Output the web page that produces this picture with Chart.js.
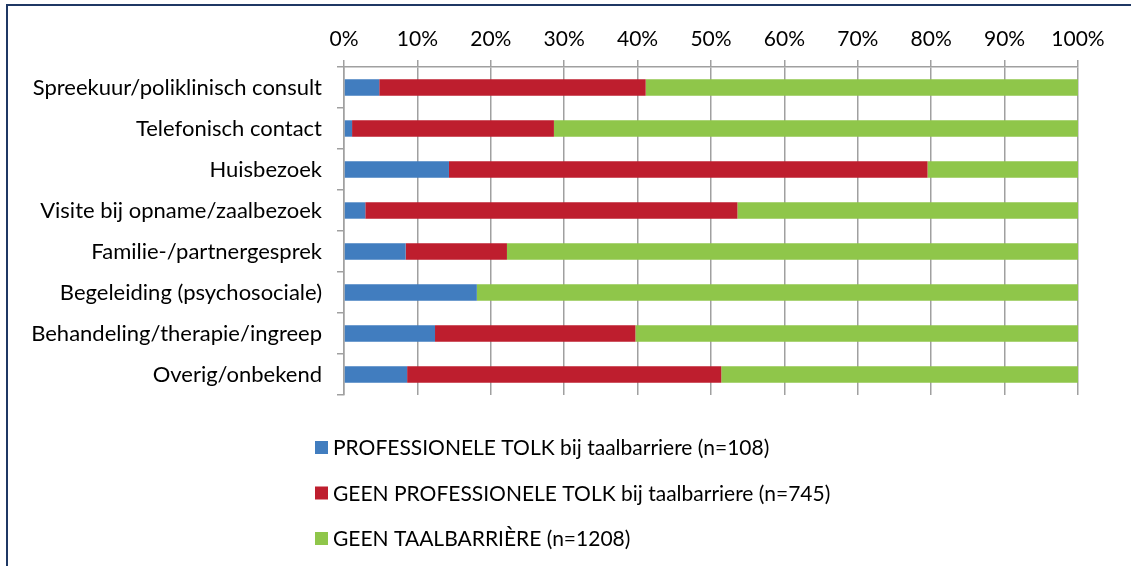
<!DOCTYPE html>
<html>
<head>
<meta charset="utf-8">
<script src="https://cdn.jsdelivr.net/npm/chart.js@4/dist/chart.umd.min.js"></script>
<style>
  html, body { margin: 0; padding: 0; background: #fff; }
  #wrap { position: relative; width: 1131px; height: 566px; }
</style>
</head>
<body>
<div id="wrap"><canvas id="bar-chart"></canvas></div>
<script>
const categories = [
  "Spreekuur/poliklinisch consult",
  "Telefonisch contact",
  "Huisbezoek",
  "Visite bij opname/zaalbezoek",
  "Familie-/partnergesprek",
  "Begeleiding (psychosociale)",
  "Behandeling/therapie/ingreep",
  "Overig/onbekend"
];
const seriesNames = [
  "PROFESSIONELE TOLK bij taalbarriere (n=108)",
  "GEEN PROFESSIONELE TOLK bij taalbarriere (n=745)",
  "GEEN TAALBARRIÈRE (n=1208)"
];
const tolk = [4.8, 1.1, 14.3, 2.9, 8.4, 18.1, 12.4, 8.6];
const geenTolk = [36.3, 27.5, 65.2, 50.7, 13.8, 0, 27.3, 42.8];
const geenBarriere = [58.9, 71.4, 20.5, 46.4, 77.8, 81.9, 60.3, 48.6];
const xTickLabels = ["0%", "10%", "20%", "30%", "40%", "50%", "60%", "70%", "80%", "90%", "100%"];
const colors = ["#417DBF", "#BE1E2E", "#8FC64A"];

const FONT = "Lato, 'Open Sans', sans-serif";

// lijst-legenda onder de grafiek + kader links/boven
const columnLegend = {
  id: "columnLegend",
  beforeDraw(chart) {
    const ctx = chart.ctx;
    ctx.save();
    ctx.strokeStyle = "#1F3864";
    ctx.lineWidth = 2;
    ctx.beginPath();
    ctx.moveTo(1131, 5);
    ctx.lineTo(7, 5);
    ctx.lineTo(7, 566);
    ctx.stroke();
    ctx.restore();
  },
  afterDraw(chart) {
    const ctx = chart.ctx;
    ctx.save();
    ctx.font = "21px " + FONT;
    ctx.textBaseline = "middle";
    chart.data.datasets.forEach(function (ds, i) {
      const y = 447.5 + i * 45.5;
      ctx.fillStyle = ds.backgroundColor;
      ctx.fillRect(315, y - 6.5, 13, 13);
      ctx.fillStyle = "#000";
      ctx.fillText(ds.label, 333, y + 1);
    });
    ctx.restore();
  }
};

new Chart(document.getElementById("bar-chart"), {
  type: "bar",
  data: {
    labels: categories,
    datasets: [
      { label: seriesNames[0], data: tolk, backgroundColor: colors[0] },
      { label: seriesNames[1], data: geenTolk, backgroundColor: colors[1] },
      { label: seriesNames[2], data: geenBarriere, backgroundColor: colors[2] }
    ]
  },
  options: {
    indexAxis: "y",
    responsive: true,
    maintainAspectRatio: false,
    animation: false,
    layout: { padding: { left: 0, right: 53, top: 0, bottom: 171 } },
    datasets: {
      bar: { categoryPercentage: 1, barPercentage: 0.4 }
    },
    plugins: {
      legend: { display: false },
      tooltip: { enabled: false }
    },
    scales: {
      x: {
        position: "top",
        stacked: true,
        min: 0,
        max: 100,
        ticks: {
          stepSize: 10,
          padding: 8,
          color: "#000",
          font: { family: FONT, size: 21 },
          callback: function (v, i) { return xTickLabels[i]; }
        },
        grid: { color: "#a0a0a0", lineWidth: 1.5, tickLength: 7 },
        border: { display: true, color: "#a0a0a0", width: 1.5 },
        afterFit: function (scale) { scale.height = 67; }
      },
      y: {
        stacked: true,
        ticks: {
          padding: 15,
          color: "#000",
          font: { family: FONT, size: 22 }
        },
        grid: {
          offset: true,
          drawOnChartArea: false,
          color: "#a0a0a0",
          lineWidth: 1.5,
          tickLength: 7
        },
        border: { display: true, color: "#a0a0a0", width: 1.5 },
        afterFit: function (scale) { scale.width = 344; }
      }
    }
  },
  plugins: [columnLegend]
});
</script>
</body>
</html>
